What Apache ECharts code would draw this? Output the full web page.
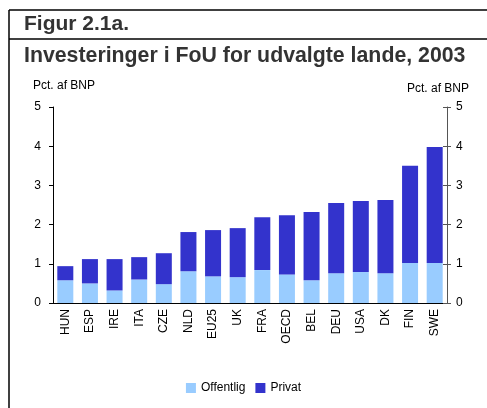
<!DOCTYPE html>
<html>
<head>
<meta charset="utf-8">
<script src="https://cdn.jsdelivr.net/npm/echarts@6/dist/echarts.min.js"></script>
<style>
  html, body { margin: 0; padding: 0; background: #fff; }
  #echart { width: 487px; height: 408px; }
</style>
</head>
<body>
<div id="echart"></div>
<script>
var categories = ['HUN', 'ESP', 'IRE', 'ITA', 'CZE', 'NLD', 'EU25', 'UK', 'FRA', 'OECD', 'BEL', 'DEU', 'USA', 'DK', 'FIN', 'SWE'];
var offentlig = [0.58, 0.50, 0.32, 0.60, 0.48, 0.81, 0.68, 0.66, 0.84, 0.73, 0.58, 0.76, 0.79, 0.76, 1.02, 1.02];
var privat = [0.36, 0.62, 0.80, 0.57, 0.79, 1.00, 1.18, 1.25, 1.35, 1.51, 1.74, 1.79, 1.81, 1.87, 2.48, 2.96];
var yTicks = [0, 1, 2, 3, 4, 5];

var font = 'Liberation Sans, Arial, sans-serif';
var myChart = echarts.init(document.getElementById('echart'));

var option = {
    animation: false,
    textStyle: { fontFamily: font },
    title: [
        { text: 'Figur 2.1a.', left: 24, top: 14, padding: 0,
          textStyle: { fontSize: 21, fontWeight: 'bold', color: '#333', fontFamily: font } },
        { text: 'Investeringer i FoU for udvalgte lande, 2003', left: 24, top: 46, padding: 0,
          textStyle: { fontSize: 21.3, fontWeight: 'bold', color: '#333', fontFamily: font } },
        { text: 'Pct. af BNP', left: 33, top: 80, padding: 0,
          textStyle: { fontSize: 12, fontWeight: 'normal', color: '#000', fontFamily: font } },
        { text: 'Pct. af BNP', right: 18, top: 83, padding: 0,
          textStyle: { fontSize: 12, fontWeight: 'normal', color: '#000', fontFamily: font } }
    ],
    graphic: [
        { type: 'line', shape: { x1: 9, y1: 10, x2: 487, y2: 10 }, style: { stroke: '#000', lineWidth: 1.5 } },
        { type: 'line', shape: { x1: 9, y1: 39, x2: 487, y2: 39 }, style: { stroke: '#000', lineWidth: 1.5 } },
        { type: 'line', shape: { x1: 9, y1: 10, x2: 9, y2: 408 }, style: { stroke: '#000', lineWidth: 1.5 } }
    ],
    legend: {
        data: ['Offentlig', 'Privat'],
        left: 'center',
        top: 377,
        itemWidth: 10,
        itemHeight: 10,
        itemGap: 10,
        icon: 'rect',
        textStyle: { fontSize: 12, color: '#000', fontFamily: font }
    },
    grid: {
        left: 53,
        right: 40,
        top: 107,
        bottom: 105
    },
    xAxis: {
        type: 'category',
        data: categories,
        axisLine: { lineStyle: { color: '#000' } },
        axisTick: { length: 5, lineStyle: { color: '#000' } },
        axisLabel: { rotate: 90, fontSize: 12, color: '#000', margin: 6, interval: 0 }
    },
    yAxis: [
        {
            type: 'value', position: 'left',
            min: yTicks[0], max: yTicks[yTicks.length - 1], interval: 1,
            axisLine: { show: true, lineStyle: { color: '#000' } },
            axisTick: { show: true, length: 4, lineStyle: { color: '#000' } },
            axisLabel: { fontSize: 12, color: '#000', margin: 12 },
            splitLine: { show: false }
        },
        {
            type: 'value', position: 'right',
            min: yTicks[0], max: yTicks[yTicks.length - 1], interval: 1,
            axisLine: { show: true, lineStyle: { color: '#555' } },
            axisTick: { show: true, length: 4, lineStyle: { color: '#555' } },
            axisLabel: { fontSize: 12, color: '#000', margin: 9 },
            splitLine: { show: false }
        },
        {
            // inner half of the crossing ticks on the right axis
            type: 'value', position: 'right',
            min: yTicks[0], max: yTicks[yTicks.length - 1], interval: 1,
            axisLine: { show: false },
            axisTick: { show: true, inside: true, length: 4, lineStyle: { color: '#555' } },
            axisLabel: { show: false },
            splitLine: { show: false }
        }
    ],
    series: [
        {
            name: 'Offentlig',
            type: 'bar',
            stack: 'fou',
            barWidth: '65%',
            itemStyle: { color: '#99CCFF' },
            data: offentlig
        },
        {
            name: 'Privat',
            type: 'bar',
            stack: 'fou',
            barWidth: '65%',
            itemStyle: { color: '#3333CC' },
            data: privat
        }
    ]
};
myChart.setOption(option);
</script>
</body>
</html>
